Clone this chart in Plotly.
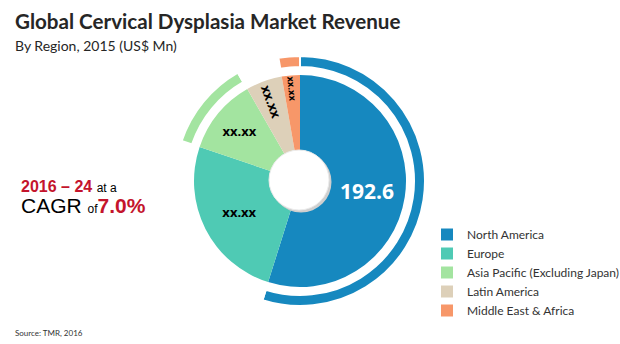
import plotly.graph_objects as go

# Revenue by region, 2015 (US$ Mn)
regions = ["North America", "Europe", "Asia Pacific (Excluding Japan)",
           "Latin America", "Middle East & Africa"]
revenue = [192.6, 89.0, 40.4, 19.4, 9.7]
slice_labels = ["192.6", "xx.xx", "xx.xx", "xx.xx", "xx.xx"]
colors = ["#1688bf", "#4fcab4", "#a3e4a0", "#ddd0b9", "#f79769"]
# regions highlighted by the outer arc
highlight = [True, False, True, False, True]

W, H = 620, 344


def px_dom(cx, cy, r):
    return dict(x=[(cx - r) / W, (cx + r) / W],
                y=[1 - (cy + r) / H, 1 - (cy - r) / H])


CX, CY = 300, 181

fig = go.Figure()

# outer highlight arcs
fig.add_trace(go.Pie(
    labels=regions, values=revenue, sort=False, direction="clockwise",
    rotation=0, hole=0.912, domain=px_dom(CX, CY, 125),
    marker=dict(colors=[c if h else "rgba(0,0,0,0)" for c, h in zip(colors, highlight)],
                line=dict(color="white", width=2)),
    textinfo="none", hoverinfo="skip", showlegend=False,
))

# main pie
fig.add_trace(go.Pie(
    labels=regions, values=revenue, sort=False, direction="clockwise",
    rotation=0, hole=0.28, domain=px_dom(CX, CY, 106),
    marker=dict(colors=colors, line=dict(width=0)),
    text=slice_labels, textinfo="text", textposition="inside",
    insidetextorientation="auto",
    textfont=dict(family="Open Sans", color=["white", "black", "black", "black", "black"],
                  size=[21, 13, 13, 13, 13], weight="bold"),
    hoverinfo="label+value",
))

# centre disc with soft shadow
fig.add_shape(type="circle", xref="paper", yref="paper", layer="above",
              x0=(CX - 29.5) / W, x1=(CX + 31.5) / W,
              y0=1 - (CY + 31.5) / H, y1=1 - (CY - 29.5) / H,
              fillcolor="#cfcfcf", line=dict(width=0))
fig.add_shape(type="circle", xref="paper", yref="paper", layer="above",
              x0=(CX - 31) / W, x1=(CX + 29) / W,
              y0=1 - (CY + 29) / H, y1=1 - (CY - 31) / H,
              fillcolor="white", line=dict(color="#ececec", width=1))

annotations = [
    dict(text="<b>Global Cervical Dysplasia Market Revenue</b>",
         x=13 / W, y=1 - 21 / H, xanchor="left", yanchor="middle",
         font=dict(family="Lato", size=20.6, color="#262626")),
    dict(text="By Region, 2015 (US$ Mn)",
         x=13 / W, y=1 - 45 / H, xanchor="left", yanchor="middle",
         font=dict(family="Lato", size=14, color="#262626")),
    dict(text="<b><span style='color:#c4142c'>2016 – 24</span></b> <span style='font-size:12px'>at a</span>",
         x=19 / W, y=1 - 186 / H, xanchor="left", yanchor="middle",
         font=dict(family="Liberation Sans", size=16, color="black")),
    dict(text="CAGR <span style='font-size:12px'>of</span><b><span style='color:#c4142c'>7.0%</span></b>",
         x=19 / W, y=1 - 206 / H, xanchor="left", yanchor="middle",
         font=dict(family="Liberation Sans", size=21, color="black")),
    dict(text="Source: TMR, 2016",
         x=13 / W, y=1 - 333 / H, xanchor="left", yanchor="middle",
         font=dict(family="Lato", size=8, color="#333333")),
]
for a in annotations:
    a["showarrow"] = False
    a["xref"] = "paper"
    a["yref"] = "paper"

fig.update_layout(
    width=W, height=H, margin=dict(l=0, r=0, t=0, b=0, autoexpand=False),
    paper_bgcolor="white", plot_bgcolor="white",
    annotations=annotations,
    legend=dict(x=427 / W, y=1 - 220 / H, xanchor="left", yanchor="top",
                font=dict(family="Lato", size=12, color="#333333"),
                bgcolor="rgba(0,0,0,0)", traceorder="normal"),
)

fig.write_html("out.html")
